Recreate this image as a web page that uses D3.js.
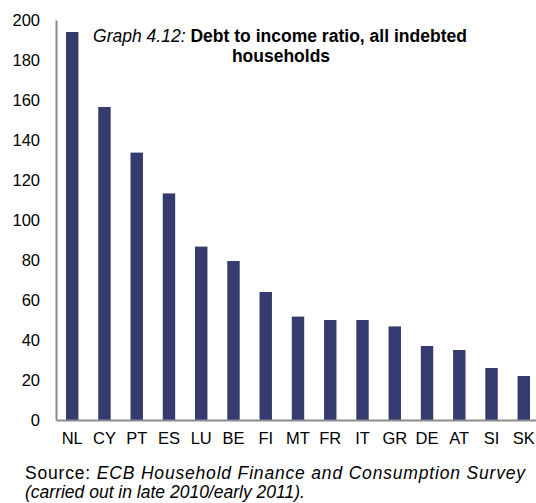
<!DOCTYPE html>
<html>
<head>
<meta charset="utf-8">
<script src="https://cdn.jsdelivr.net/npm/d3@7"></script>
<style>
  body { margin: 0; background: #fff; }
  svg { display: block; font-family: "Liberation Sans", Arial, sans-serif; }
</style>
</head>
<body>
<svg id="chart" width="536" height="503"></svg>
<script>
// country codes and debt-to-income ratios (%)
var countries = ['NL', 'CY', 'PT', 'ES', 'LU', 'BE', 'FI', 'MT', 'FR', 'IT', 'GR', 'DE', 'AT', 'SI', 'SK'];
var ratios    = [194, 156.5, 133.7, 113.3, 86.7, 79.5, 64, 51.7, 50, 50, 46.8, 37, 35, 26, 22];
var yTicks    = [0, 20, 40, 60, 80, 100, 120, 140, 160, 180, 200];

var svg = d3.select('#chart');

var x = d3.scaleBand()
	.domain(countries)
	.range([56, 540])
	.paddingInner(0.615)
	.paddingOuter(0.31);

var y = d3.scaleLinear()
	.domain([0, 200])
	.range([420, 20]);

// bars
svg.append('g')
	.selectAll('rect')
	.data(countries)
	.enter().append('rect')
	.attr('x', function(d) { return x(d); })
	.attr('width', x.bandwidth())
	.attr('y', function(d, i) { return y(ratios[i]); })
	.attr('height', function(d, i) { return y(0) - y(ratios[i]); })
	.attr('fill', '#353b6f');

// y axis
var yAxis = svg.append('g')
	.attr('transform', 'translate(56,0)')
	.call(d3.axisLeft(y).tickValues(yTicks).tickSize(0).tickPadding(16));
yAxis.select('.domain').attr('stroke', '#8c8c8c').attr('stroke-width', 2);
yAxis.selectAll('text').attr('font-size', 16.5).attr('fill', '#000')
	.attr('font-family', '"Liberation Sans", Arial, sans-serif');

// x axis
var xAxis = svg.append('g')
	.attr('transform', 'translate(0,420)')
	.call(d3.axisBottom(x).tickSize(0).tickPadding(12));
xAxis.select('.domain').attr('stroke', '#8c8c8c').attr('stroke-width', 2);
xAxis.selectAll('text').attr('font-size', 16.5).attr('fill', '#000')
	.attr('font-family', '"Liberation Sans", Arial, sans-serif');

// title
var title = svg.append('text')
	.attr('x', 93)
	.attr('y', 42)
	.attr('font-size', 17.5)
	.attr('textLength', 374)
	.attr('lengthAdjust', 'spacing');
title.append('tspan').attr('font-style', 'italic').text('Graph 4.12: ');
title.append('tspan').attr('font-weight', 'bold').text('Debt to income ratio, all indebted');

svg.append('text')
	.attr('x', 281)
	.attr('y', 62)
	.attr('text-anchor', 'middle')
	.attr('font-size', 17.5)
	.attr('font-weight', 'bold')
	.text('households');

// source note
var src = svg.append('text')
	.attr('x', 25)
	.attr('y', 479)
	.attr('font-size', 17.5)
	.attr('textLength', 500)
	.attr('lengthAdjust', 'spacing');
src.append('tspan').text('Source: ');
src.append('tspan').attr('font-style', 'italic').text('ECB Household Finance and Consumption Survey');

svg.append('text')
	.attr('x', 25)
	.attr('y', 498)
	.attr('font-size', 17.5)
	.attr('font-style', 'italic')
	.text('(carried out in late 2010/early 2011).');
</script>
</body>
</html>
